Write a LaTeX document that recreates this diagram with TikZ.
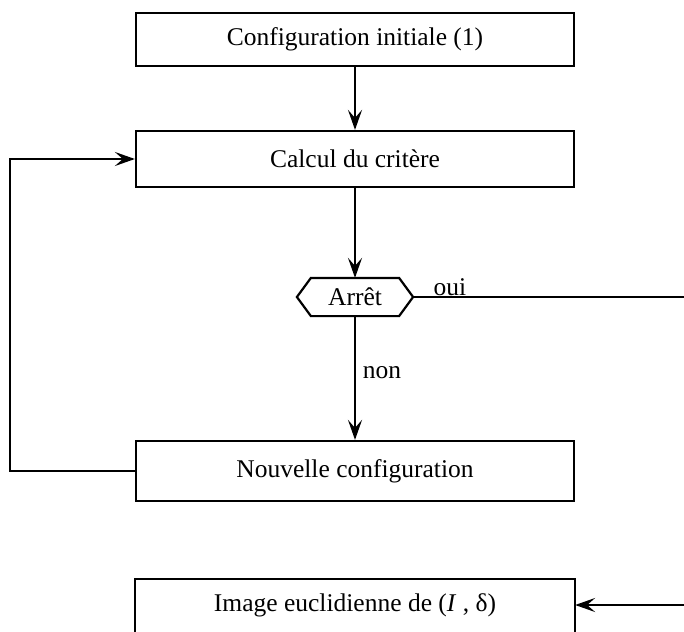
\documentclass[tikz,border=0pt]{standalone}
\usepackage{fontspec}
\setmainfont{Liberation Serif}
\usetikzlibrary{arrows.meta}
\begin{document}
\begin{tikzpicture}[x=1pt,y=-1pt,
  line width=2.2pt,
  every node/.style={font=\fontsize{25.5}{30}\selectfont},
  boxnode/.style={draw, minimum width=438pt, inner sep=0pt},
  arr/.style={-{Stealth[length=20pt,width=14pt,inset=8pt]}},
  lbl/.style={inner sep=0pt}]
\useasboundingbox (0,0) rectangle (684,631);
\node[boxnode, minimum height=53pt] (init) at (355,39.5) {Configuration initiale (1)};
\node[boxnode, minimum height=56pt] (calc) at (355,159) {Calcul du critère};
\node[inner sep=0pt, minimum width=86pt, minimum height=36pt] (arret) at (355,297) {Arrêt};
\draw (arret.north west) -- (arret.north east) -- ([xshift=14pt]arret.east) coordinate (arretR)
      -- (arret.south east) -- (arret.south west) -- ([xshift=-14pt]arret.west) coordinate (arretL) -- cycle;
\node[boxnode, minimum height=60pt] (nouv) at (355,471) {Nouvelle configuration};
\node[boxnode, draw=none, minimum height=60pt] (img) at (355,610) {};
\draw (img.south west) -- (img.north west) -- (img.north east) -- (img.south east);
\node (imgtxt) at (355,605) {Image euclidienne de (\textit{I} , δ)};
\coordinate (ouiend) at (684,297);
\coordinate (imgin) at (684,605);
\coordinate (loopA) at (10,471);
\coordinate (loopB) at (10,159);
\draw[arr] (init) -- (calc);
\draw[arr] (calc) -- (arret.north);
\draw[arr] (arret.south) -- (nouv);
\draw (arretR) -- (ouiend);
\draw[arr] (imgin) -- (img.east |- imgin);
\draw[arr] (nouv.west) -- (loopA) -- (loopB) -- (calc.west);
\node[lbl] (oui) at (450,287) {oui};
\node[lbl] (non) at (382,373) {non};
\end{tikzpicture}
\end{document}
